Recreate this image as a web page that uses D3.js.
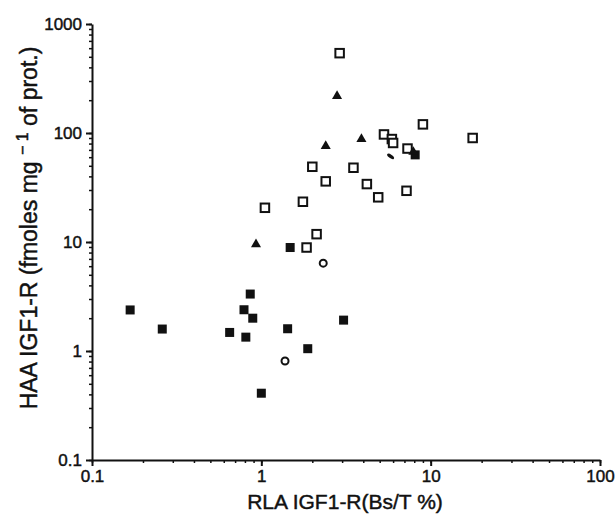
<!DOCTYPE html>
<html lang="en">
<head>
  <meta charset="UTF-8">
  <title>HAA vs RLA IGF1-R</title>
  <script src="https://d3js.org/d3.v7.min.js"></script>
  <style>
    body { margin: 0; background: #fff; }
    text { font-family: "Liberation Sans", Arial, sans-serif; fill: #111; stroke: #111; stroke-width: 0.45px; }
    .axis path, .axis line { stroke: #111; }
  </style>
</head>
<body>
  <script>
    // Data: [RLA (Bs/T %), HAA (fmoles/mg)]
    var openSquares = [
      [2.9, 540], [9.0, 120], [17.7, 90], [5.3, 97], [5.9, 88], [6.0, 81],
      [7.3, 72], [2.0, 49], [3.5, 48], [2.4, 36], [4.2, 34], [4.9, 25.7],
      [7.2, 29.5], [1.76, 23.4], [1.05, 20.6], [2.12, 11.8], [1.85, 8.9]
    ];
    var filledSquares = [
      [0.168, 2.38], [0.26, 1.59], [0.86, 3.33], [0.79, 2.39], [0.89, 2.0],
      [0.65, 1.48], [0.81, 1.34], [1.43, 1.6], [3.06, 1.92], [1.88, 1.05],
      [1.0, 0.41], [1.48, 8.9], [8.1, 63]
    ];
    var filledTriangles = [
      [2.8, 218], [3.9, 88], [2.4, 76], [0.93, 9.5], [7.9, 67]
    ];
    var openCircles = [[1.38, 0.81], [2.32, 6.4]];
    var smudges = [[5.8, 61]];

    var xTicks = [0.1, 1, 10, 100];
    var yTicks = [0.1, 1, 10, 100, 1000];

    var w = 616, h = 517;
    var mLeft = 92, mRight = 600, mTop = 24, mBottom = 460;

    var svg = d3.select("body").append("svg")
      .attr("width", w)
      .attr("height", h);

    var x = d3.scaleLog().domain([0.1, 100]).range([mLeft, mRight]);
    var y = d3.scaleLog().domain([0.1, 1000]).range([mBottom, mTop]);

    // minor ticks
    svg.append("g")
      .attr("class", "axis")
      .attr("transform", "translate(0," + mBottom + ")")
      .call(d3.axisBottom(x).tickValues(x.ticks()).tickSize(3).tickFormat(""))
      .call(function(g) { g.select(".domain").remove(); })
      .selectAll("line").attr("stroke-width", 1.5);
    svg.append("g")
      .attr("class", "axis")
      .attr("transform", "translate(" + mLeft + ",0)")
      .call(d3.axisLeft(y).tickValues(y.ticks()).tickSize(3).tickFormat(""))
      .call(function(g) { g.select(".domain").remove(); })
      .selectAll("line").attr("stroke-width", 1.5);

    // major ticks + axis lines
    var xAxis = svg.append("g")
      .attr("class", "axis")
      .attr("transform", "translate(0," + mBottom + ")")
      .call(d3.axisBottom(x).tickValues(xTicks).tickSize(6).tickSizeOuter(0)
        .tickFormat(function(d) { return String(d); }));
    xAxis.select(".domain").attr("stroke-width", 2);
    xAxis.selectAll("line").attr("stroke-width", 2);
    xAxis.selectAll("text")
      .style("font-size", "17px")
      .attr("y", 9)
      .attr("dy", "0.75em");

    var yAxis = svg.append("g")
      .attr("class", "axis")
      .attr("transform", "translate(" + mLeft + ",0)")
      .call(d3.axisLeft(y).tickValues(yTicks).tickSize(6).tickSizeOuter(0)
        .tickFormat(function(d) { return String(d); }));
    yAxis.select(".domain").attr("stroke-width", 2);
    yAxis.selectAll("line").attr("stroke-width", 2);
    yAxis.selectAll("text")
      .style("font-size", "17px")
      .attr("x", -10);

    // markers
    var sq = 8.5;
    svg.append("g").selectAll("rect")
      .data(openSquares).enter().append("rect")
      .attr("x", function(d) { return x(d[0]) - sq / 2; })
      .attr("y", function(d) { return y(d[1]) - sq / 2; })
      .attr("width", sq).attr("height", sq)
      .attr("fill", "#fff").attr("stroke", "#111").attr("stroke-width", 2);

    svg.append("g").selectAll("rect")
      .data(filledSquares).enter().append("rect")
      .attr("x", function(d) { return x(d[0]) - 4.5; })
      .attr("y", function(d) { return y(d[1]) - 4.5; })
      .attr("width", 9).attr("height", 9)
      .attr("fill", "#111");

    svg.append("g").selectAll("path")
      .data(filledTriangles).enter().append("path")
      .attr("d", d3.symbol().type(d3.symbolTriangle).size(44))
      .attr("transform", function(d) { return "translate(" + x(d[0]) + "," + y(d[1]) + ")"; })
      .attr("fill", "#111");

    svg.append("g").selectAll("circle")
      .data(openCircles).enter().append("circle")
      .attr("cx", function(d) { return x(d[0]); })
      .attr("cy", function(d) { return y(d[1]); })
      .attr("r", 3.5)
      .attr("fill", "#fff").attr("stroke", "#111").attr("stroke-width", 2);

    svg.append("g").selectAll("ellipse")
      .data(smudges).enter().append("ellipse")
      .attr("transform", function(d) { return "translate(" + x(d[0]) + "," + y(d[1]) + ") rotate(35)"; })
      .attr("rx", 4).attr("ry", 1.8)
      .attr("fill", "#111");

    // axis titles
    svg.append("text")
      .attr("x", 345)
      .attr("y", 509)
      .attr("text-anchor", "middle")
      .style("font-size", "21px")
      .text("RLA IGF1-R(Bs/T %)");

    var yt = svg.append("text")
      .attr("transform", "translate(37,228) rotate(-90)")
      .attr("text-anchor", "middle")
      .style("font-size", "23px");
    yt.append("tspan").text("HAA IGF1-R (fmoles mg ");
    yt.append("tspan").attr("dy", -9).style("font-size", "16px").text("\u2212 1");
    yt.append("tspan").attr("dy", 9).text(" of prot.)");
  </script>
</body>
</html>
